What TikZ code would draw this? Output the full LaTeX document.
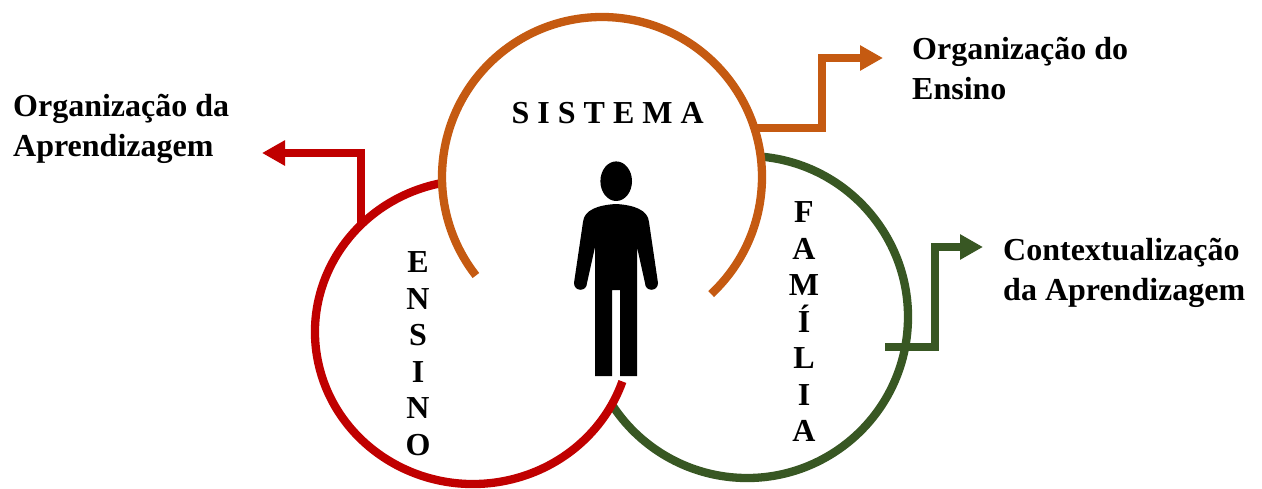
\documentclass[tikz,border=0pt]{standalone}
\usepackage{fontspec}
\setmainfont{Liberation Serif}
\usetikzlibrary{arrows.meta}
\definecolor{cor}{HTML}{C55A11}
\definecolor{cred}{HTML}{C00000}
\definecolor{cgreen}{HTML}{385723}
\tikzset{
  ring/.style={line width=8.3pt, line cap=butt},
  conn/.style={line width=8pt, -{Triangle[length=23pt,width=24pt]}},
  lbl/.style={font=\bfseries\fontsize{32}{39.5}\selectfont, inner sep=0pt, align=left},
  vlet/.style={font=\bfseries\fontsize{32}{36.5}\selectfont, inner sep=0pt, align=center},
}
\begin{document}
\begin{tikzpicture}[x=1pt,y=-1pt]
\useasboundingbox (0,0) rectangle (1262,488);
% centres
\coordinate (ocen) at (602,177);
\coordinate (rcen) at (473,332);
\coordinate (gcen) at (747,317);
% rings: green, red, orange (in this order of layering)
\draw[ring, cgreen] ([shift={(84:161pt)}]gcen) arc[start angle=84, end angle=-147, radius=161pt];
\draw[ring, cred] ([shift={(102:158pt and 152pt)}]rcen) arc[start angle=102, end angle=341, x radius=158pt, y radius=152pt];
\draw[ring, cor] ([shift={(-47:160pt)}]ocen) arc[start angle=-47, end angle=218, radius=160pt];
% connector ends
\coordinate (rs) at ([shift={(135:158pt and 152pt)}]rcen);
\coordinate (rtip) at (262,153);
\coordinate (os) at ([shift={(18:160pt)}]ocen);
\coordinate (obend) at (822,0);
\coordinate (otip) at (883,58);
\coordinate (gs) at (885,347);
\coordinate (gbend) at (935,0);
\coordinate (gtip) at (983,247);
\draw[conn, cred] (rs) |- (rtip);
\draw[conn, cor] (os) -| (obend |- otip) -- (otip);
\draw[conn, cgreen] (gs) -| (gbend |- gtip) -- (gtip);
% labels (base anchor = baseline of the last line)
\node[lbl, anchor=base west] (tl) at (13,156) {Organização da\\Aprendizagem};
\node[lbl, anchor=base west] (tr) at (912,99) {Organização do\\Ensino};
\node[lbl, anchor=base west] (rr) at (1003,300) {Contextualização\\da Aprendizagem};
\node[lbl, anchor=base] (sis) at (607.7,123.3) {S I S T E M A};
\node[vlet] (ens) at (418,353.5) {E\\N\\S\\I\\N\\O};
\node[vlet] (fam) at (804,322) {F\\A\\M\\Í\\L\\I\\A};
% person
\fill (616.2,181.2) ellipse[x radius=15.8pt, y radius=19.8pt];
\fill (595,376) -- (595,247) -- (587,283) .. controls (587,292) and (574,292) .. (574,283)
  -- (583,222) .. controls (584,210) and (598,205) .. (616,204)
  .. controls (634,205) and (648,210) .. (649,222)
  -- (658,283) .. controls (658,292) and (645,292) .. (645,283)
  -- (637,247) -- (637,376) -- (620,376) -- (620,290) -- (612,290) -- (612,376) -- cycle;
\end{tikzpicture}
\end{document}
